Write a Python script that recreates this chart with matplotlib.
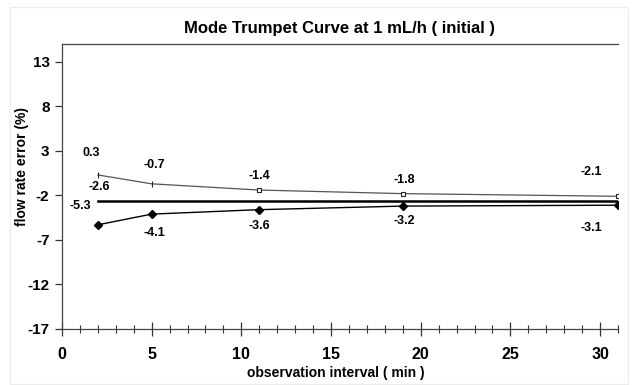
import matplotlib
matplotlib.use("Agg")
import matplotlib.pyplot as plt
from matplotlib.patches import Rectangle
from matplotlib.ticker import MultipleLocator

plt.rcParams['font.family'] = ['Liberation Sans', 'DejaVu Sans']
plt.rcParams['axes.unicode_minus'] = False

x = [2, 5, 11, 19, 31]
upper = [0.3, -0.7, -1.4, -1.8, -2.1]
lower = [-5.3, -4.1, -3.6, -3.2, -3.1]
mean_val = -2.6
yticks = [-17, -12, -7, -2, 3, 8, 13]
xticks = [0, 5, 10, 15, 20, 25, 30]

fig = plt.figure(figsize=(6.39, 3.85), dpi=100)
fig.patches.append(Rectangle((10/639, 1-384/385), 618/639, 377/385, transform=fig.transFigure,
                             fill=False, edgecolor='#ececec', linewidth=0.8))
ax = fig.add_axes([62/639, 1-329/385, 556/639, 285/385])

ax.plot(x, upper, color='#555555', lw=0.9, zorder=3)
up_markers = ['|', '|', 's', 's', 's']
up_sizes = [5, 5, 3.2, 3.0, 3.0]
for xi, yi, m, s in zip(x, upper, up_markers, up_sizes):
    ax.plot([xi], [yi], linestyle='none', marker=m, ms=s, mfc='white', mec='#222222', mew=0.8, zorder=4)
ax.plot(x, lower, color='black', lw=1.0, marker='D', ms=3.8, mfc='black', mec='black', zorder=3)
ax.plot([x[0], x[-1]], [mean_val, mean_val], color='black', lw=1.8, zorder=2)

ax.set_xlim(0, 31)
ax.set_ylim(-17, 15)
ax.set_yticks(yticks)
ax.set_xticks(xticks)
ax.xaxis.set_minor_locator(MultipleLocator(1))
ax.tick_params(axis='y', direction='out', length=5, width=0.9, labelsize=11, pad=4, colors='#333333', labelcolor='black')
ax.tick_params(axis='x', which='major', direction='inout', length=10, width=0.9, labelsize=11.5, pad=8, colors='#333333', labelcolor='black')
ax.tick_params(axis='x', which='minor', direction='inout', length=6, width=0.8, colors='#333333')
for lab in ax.get_xticklabels() + ax.get_yticklabels():
    lab.set_fontweight('bold')

for s in ['left', 'bottom', 'top']:
    ax.spines[s].set_color('#444444')
    ax.spines[s].set_linewidth(0.9)
ax.spines['right'].set_visible(False)

ax.set_title('Mode Trumpet Curve at 1 mL/h ( initial )', fontsize=12, fontweight='bold', pad=8)
ax.set_xlabel('observation interval ( min )', fontsize=10, fontweight='bold', va='center')
ax.xaxis.set_label_coords(0.493, -0.156)
ax.set_ylabel('flow rate error (%)', fontsize=10, fontweight='bold', va='center')
ax.yaxis.set_label_coords(-0.072, 0.57)

up_off = [(-0.35, 2.5), (0.15, 2.1), (0.0, 1.6), (0.1, 1.5), (-1.5, 2.7)]
lo_off = [(-1.0, 2.1), (0.15, -2.1), (0.0, -1.8), (0.1, -1.7), (-1.5, -2.6)]
kw = dict(fontsize=9, fontweight='bold', ha='center', va='center')
for xi, yi, (dx, dy) in zip(x, upper, up_off):
    ax.text(xi + dx, yi + dy, f'{yi:.1f}', **kw)
for xi, yi, (dx, dy) in zip(x, lower, lo_off):
    ax.text(xi + dx, yi + dy, f'{yi:.1f}', **kw)
ax.text(x[0] + 0.1, mean_val + 1.5, f'{mean_val:.1f}', **kw)

fig.savefig('out.png', dpi=100)
